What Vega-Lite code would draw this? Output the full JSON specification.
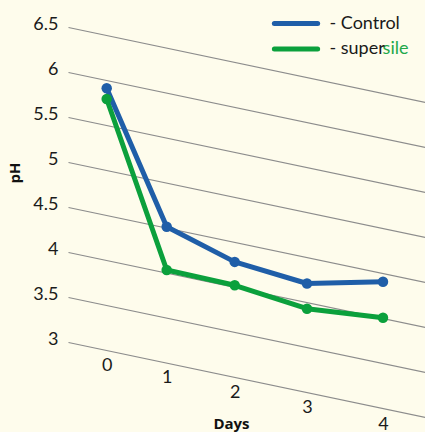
{
  "$schema": "https://vega.github.io/schema/vega-lite/v6.json",
  "width": 357,
  "height": 351,
  "padding": {"left": 68, "top": 0, "right": 0, "bottom": 81},
  "autosize": {"type": "none"},
  "background": "#fefcec",
  "config": {"view": {"stroke": null}, "font": "Lato"},
  "data": {
    "values": [
      {"Day": 0, "pH": 5.70, "Series": "supersile"},
      {"Day": 1, "pH": 3.80, "Series": "supersile"},
      {"Day": 2, "pH": 3.63, "Series": "supersile"},
      {"Day": 3, "pH": 3.37, "Series": "supersile"},
      {"Day": 4, "pH": 3.27, "Series": "supersile"},
      {"Day": 0, "pH": 5.82, "Series": "Control"},
      {"Day": 1, "pH": 4.28, "Series": "Control"},
      {"Day": 2, "pH": 3.89, "Series": "Control"},
      {"Day": 3, "pH": 3.65, "Series": "Control"},
      {"Day": 4, "pH": 3.67, "Series": "Control"}
    ]
  },
  "layer": [
    {
      "mark": {
        "type": "line",
        "strokeWidth": 5,
        "strokeJoin": "round",
        "strokeCap": "round",
        "point": {"filled": true, "size": 110, "opacity": 1}
      },
      "encoding": {
        "x": {
          "field": "Day",
          "type": "quantitative",
          "scale": {
            "domain": [-0.645, 0, 1, 2, 3, 4, 4.553],
            "range": [0, 38.7, 98.7, 166.7, 239, 315, 357],
            "nice": false,
            "zero": false
          },
          "axis": {
            "values": [0, 1, 2, 3, 4],
            "format": "d",
            "title": "Days",
            "domain": false,
            "ticks": false,
            "tickSize": 0,
            "grid": false,
            "labelFlush": false,
            "labelPadding": 14,
            "labelBaseline": "middle",
            "labelFontSize": 18,
            "labelColor": "#1a1a1a",
            "titleFont": "Open Sans",
            "titleFontWeight": "bold",
            "titleFontSize": 15,
            "titleColor": "#111111",
            "titleX": 163,
            "titleY": 77.5,
            "titleBaseline": "alphabetic",
            "titleAlign": "center",
            "encoding": {
              "labels": {
                "dy": {"value": {"expr": "0.214 * (scale('x', datum.value) - scale('x', 0))"}}
              }
            }
          }
        },
        "y": {
          "field": "pH",
          "type": "quantitative",
          "scale": {"domain": [2.9, 6.8], "nice": false, "zero": false},
          "axis": {
            "values": [3, 3.5, 4, 4.5, 5, 5.5, 6, 6.5],
            "format": "~g",
            "title": "pH",
            "domain": false,
            "ticks": false,
            "tickSize": 0,
            "labelPadding": 10,
            "labelFontSize": 18,
            "labelColor": "#1a1a1a",
            "labelBaseline": "middle",
            "labelOffset": -3,
            "grid": true,
            "gridColor": "#8c8c8c",
            "gridWidth": 1.2,
            "titleFont": "Open Sans",
            "titleFontWeight": "bold",
            "titleFontSize": 15,
            "titleColor": "#111111",
            "titleAngle": 270,
            "titleX": -48.5,
            "titleY": 172.5,
            "titleAlign": "center",
            "titleBaseline": "alphabetic",
            "encoding": {
              "grid": {
                "y2": {"value": {"expr": "scale('y', datum.value) + 75"}}
              }
            }
          }
        },
        "color": {
          "field": "Series",
          "type": "nominal",
          "scale": {"domain": ["Control", "supersile"], "range": ["#1f5ea8", "#0ba03c"]},
          "legend": {
            "orient": "none",
            "legendX": 216.5,
            "legendY": 12,
            "title": null,
            "padding": 0,
            "symbolType": "M-2.5,0H2.5",
            "symbolSize": 300,
            "symbolStrokeWidth": 5,
            "labelFont": "Lato",
            "labelFontSize": 18,
            "labelColor": "#1a1a1a",
            "labelOffset": 22,
            "labelBaseline": "middle",
            "rowPadding": 3.5,
            "labelExpr": "datum.label == 'supersile' ? '- super' : '- ' + datum.label",
            "encoding": {"symbols": {"strokeCap": {"value": "round"}}}
          }
        }
      }
    },
    {
      "data": {"values": [{"word": "sile"}]},
      "mark": {"type": "text", "align": "left", "baseline": "middle", "fontSize": 18, "font": "Lato", "color": "#22a84a"},
      "encoding": {
        "text": {"field": "word"},
        "x": {"datum": 3.995},
        "y": {"datum": 6.254}
      }
    }
  ]
}
